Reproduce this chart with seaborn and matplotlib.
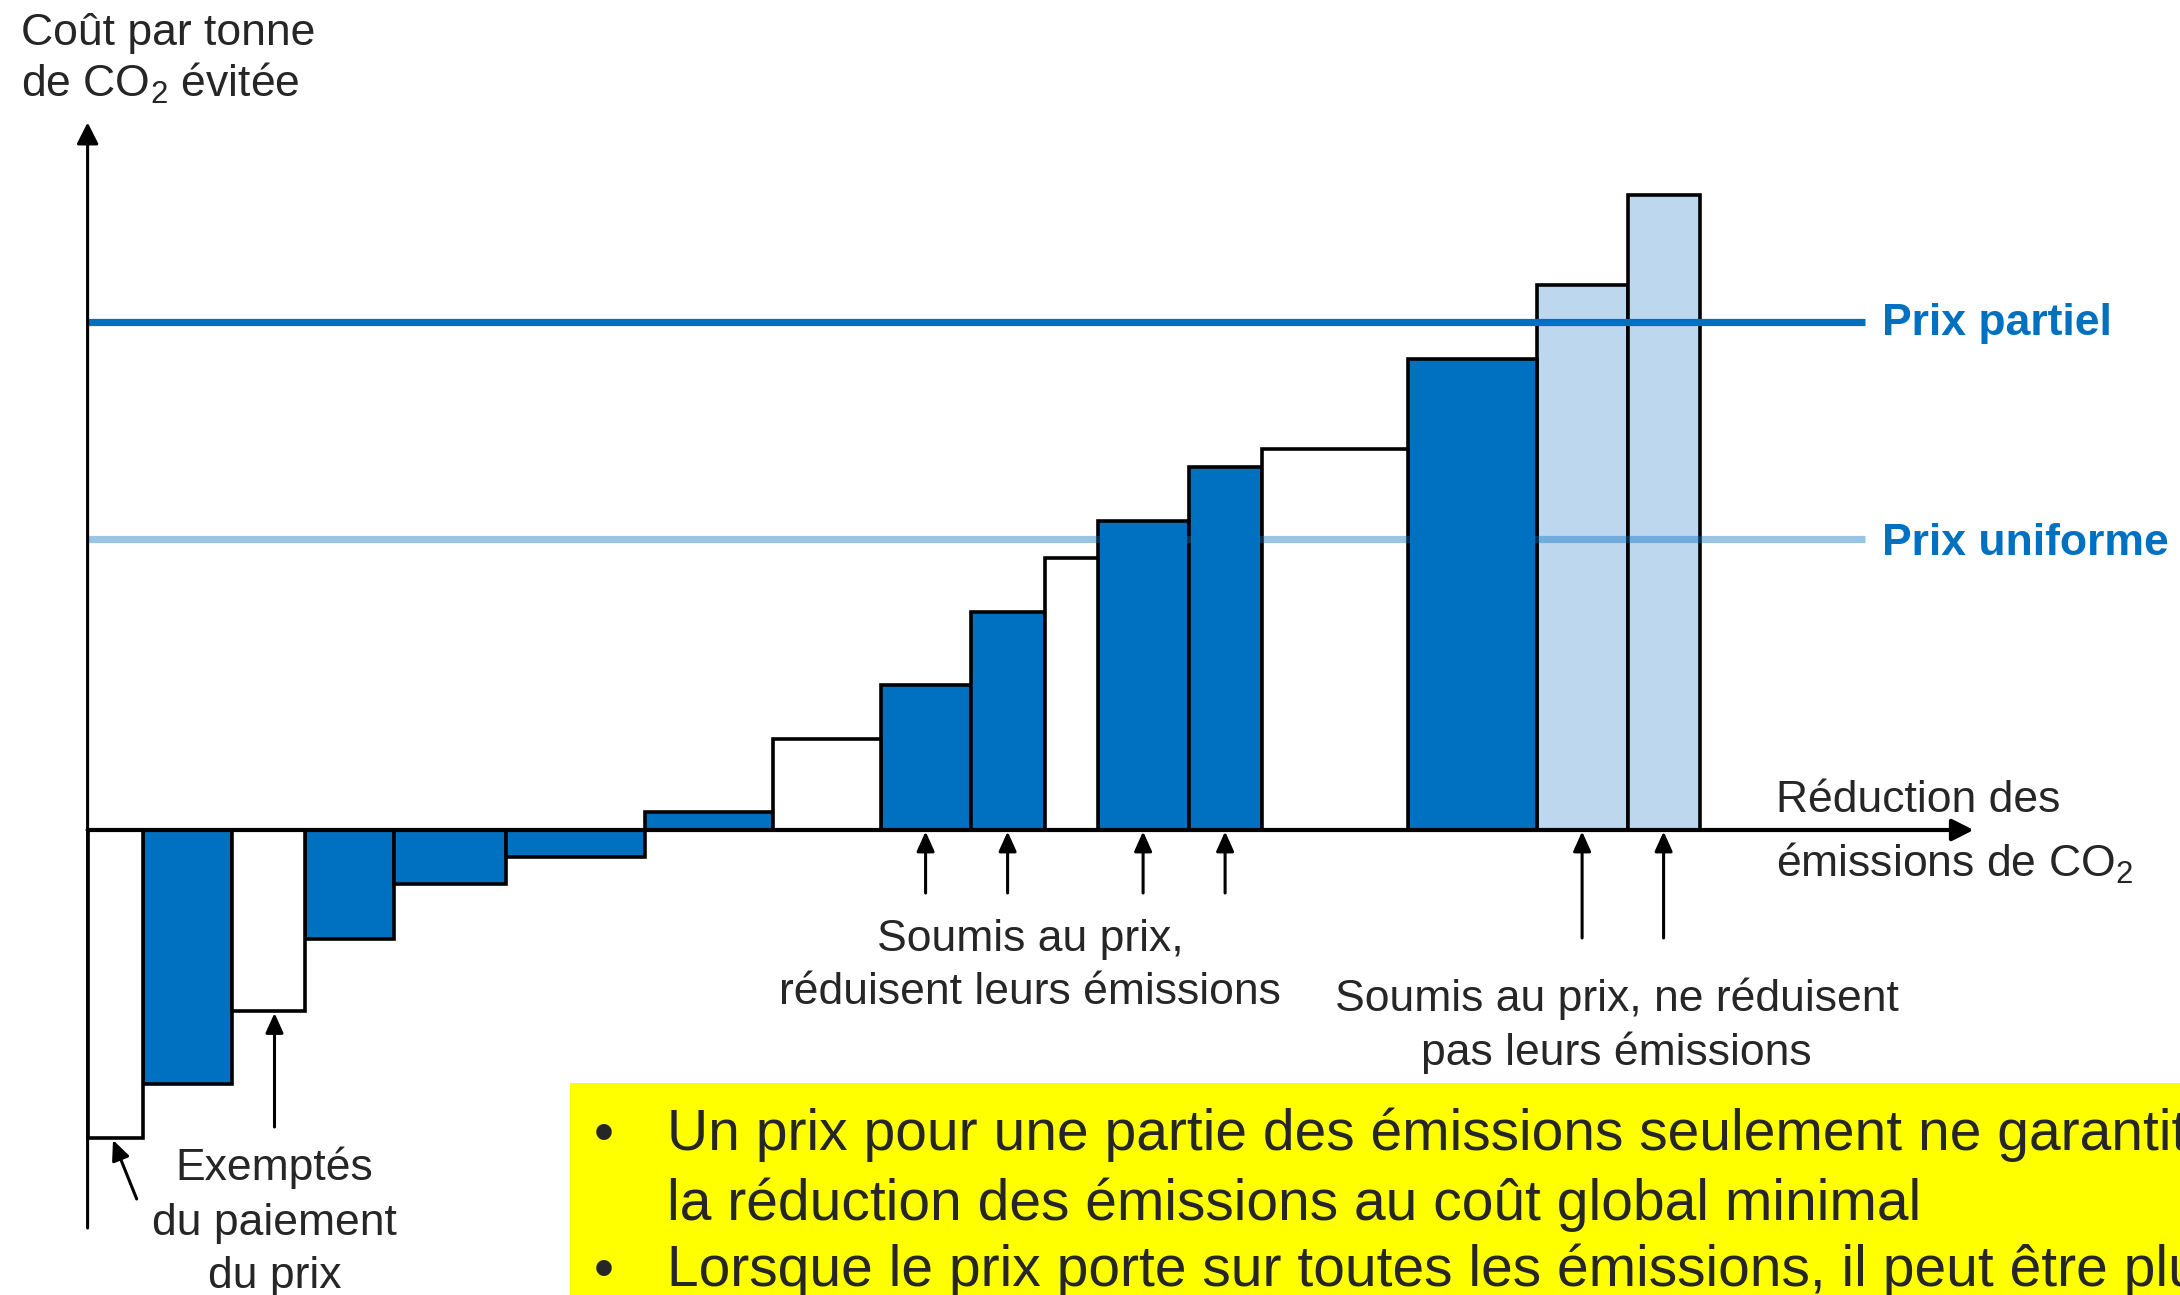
import numpy as np
import pandas as pd
import matplotlib
matplotlib.use("Agg")
import matplotlib.pyplot as plt
from matplotlib.patches import Rectangle
import seaborn as sns

# ---------------- data ----------------
# width of each abatement option (tonnes of CO2 reduced, arbitrary units)
largeurs = [5.5, 8.9, 7.3, 8.9, 11.2, 13.9, 12.8, 10.8, 9.0, 7.4, 5.3, 9.1, 7.3, 14.6, 12.9, 9.1, 7.2]
# cost per tonne avoided (arbitrary units)
couts = [-61.5, -50.7, -36.1, -21.7, -10.8, -5.3, 3.7, 18.3, 29.1, 43.7, 54.5, 61.9, 72.7, 76.2, 94.3, 109.0, 127.1]
groupes = ["exempte", "reduit", "exempte", "reduit", "reduit", "reduit", "reduit", "exempte",
           "reduit", "reduit", "exempte", "reduit", "reduit", "exempte", "reduit",
           "ne_reduit_pas", "ne_reduit_pas"]
ordre_groupes = ["exempte", "reduit", "ne_reduit_pas"]
prix_partiel = 101.7
prix_uniforme = 58.3

titre_y = ["Coût par tonne", "de CO$_2$ évitée"]
titre_x = ["Réduction des", "émissions de CO$_2$"]
label_partiel = "Prix partiel"
label_uniforme = "Prix uniforme"
note_exemptes = ["Exemptés", "du paiement", "du prix"]
note_reduisent = ["Soumis au prix,", "réduisent leurs émissions"]
note_ne_reduisent = ["Soumis au prix, ne réduisent", "pas leurs émissions"]
puces = ["Un prix pour une partie des émissions seulement ne garantit pas",
         "la réduction des émissions au coût global minimal",
         "Lorsque le prix porte sur toutes les émissions, il peut être plus bas"]
# bars pointed at by the arrows (indices)
fleches_reduisent = [8, 9, 11, 12]
fleches_ne_reduisent = [15, 16]

# ---------------- styling ----------------
BLEU = "#0070C0"
BLEU_CLAIR = "#BDD7EE"
palette = {"exempte": "white", "reduit": BLEU, "ne_reduit_pas": BLEU_CLAIR}

sns.set_theme(style="white")
plt.rcParams["font.family"] = ["Liberation Sans", "DejaVu Sans"]
plt.rcParams["mathtext.fontset"] = "custom"
plt.rcParams["mathtext.rm"] = "Liberation Sans"
plt.rcParams["mathtext.it"] = "Liberation Sans:italic"
plt.rcParams["mathtext.bf"] = "Liberation Sans:bold"

fig = plt.figure(figsize=(21.8, 12.95), dpi=100)
ax = fig.add_axes([0, 0, 1, 1])

bords = np.concatenate([[0.0], np.cumsum(largeurs)])
centres = (bords[:-1] + bords[1:]) / 2
df = pd.DataFrame({"centre": centres, "cout": couts, "groupe": groupes})

sns.histplot(data=df, x="centre", weights="cout", bins=[float(b) for b in bords], hue="groupe",
             hue_order=ordre_groupes, palette=palette, multiple="layer",
             alpha=1, edgecolor="black", linewidth=2.6, legend=False, ax=ax, zorder=2)
for p in list(ax.patches):
    if p.get_height() == 0:
        p.remove()

ax.set_xlim(-8.76, 209.24)
ax.set_ylim(-93.0, 166.0)
ax.set_axis_off()

# price lines
x_fin_lignes = 177.7
ax.plot([0, x_fin_lignes], [prix_partiel, prix_partiel], color=BLEU, lw=5.2,
        solid_capstyle="butt", zorder=3)
ax.plot([0, x_fin_lignes], [prix_uniforme, prix_uniforme], color=BLEU, lw=5.2,
        alpha=0.4, solid_capstyle="butt", zorder=3)
ax.text(179.4, prix_partiel - 2.7, label_partiel, color=BLEU, fontsize=32,
        fontweight="bold", ha="left", va="baseline")
ax.text(179.4, prix_uniforme - 3.3, label_uniforme, color=BLEU, fontsize=32,
        fontweight="bold", ha="left", va="baseline")

# axes arrows
ax.annotate("", xy=(0, 141.5), xytext=(0, -79.6),
            arrowprops=dict(arrowstyle="-|>,head_length=0.65,head_width=0.33",
                            mutation_scale=20, lw=2.2, color="black",
                            shrinkA=0, shrinkB=0), zorder=5)
ax.annotate("", xy=(188.6, 0), xytext=(0, 0),
            arrowprops=dict(arrowstyle="-|>,head_length=0.65,head_width=0.33",
                            mutation_scale=20, lw=3.0, color="black",
                            shrinkA=0, shrinkB=0), zorder=5)

# axis titles
ax.text(-6.66, 157.0, titre_y[0], fontsize=32, ha="left", va="baseline")
ax.text(-6.66, 146.6, titre_y[1], fontsize=32, ha="left", va="baseline")
ax.text(168.8, 3.66, titre_x[0], fontsize=32, ha="left", va="baseline")
ax.text(168.8, -9.34, titre_x[1], fontsize=32, ha="left", va="baseline")

fleche = dict(arrowstyle="-|>,head_length=0.6,head_width=0.27", mutation_scale=20,
              lw=2.2, color="black", shrinkA=0, shrinkB=0)

# arrows to bars subject to the price
for i in fleches_reduisent:
    ax.annotate("", xy=(centres[i], -0.3), xytext=(centres[i], -12.6),
                arrowprops=fleche, zorder=5)
for i in fleches_ne_reduisent:
    ax.annotate("", xy=(centres[i], -0.3), xytext=(centres[i], -21.6),
                arrowprops=fleche, zorder=5)

# arrows to exempted bars
ax.annotate("", xy=(2.54, couts[0] - 0.5), xytext=(4.91, -73.8), arrowprops=fleche, zorder=5)
ax.annotate("", xy=(18.69, couts[2] - 0.5), xytext=(18.69, -59.4), arrowprops=fleche, zorder=5)

# notes
for txt, yb in zip(note_exemptes, [-70.0, -81.0, -91.6]):
    ax.text(18.69, yb, txt, fontsize=32, ha="center", va="baseline")
for txt, yb in zip(note_reduisent, [-24.3, -34.7]):
    ax.text(94.24, yb, txt, fontsize=32, ha="center", va="baseline")
for txt, yb in zip(note_ne_reduisent, [-36.3, -47.0]):
    ax.text(152.9, yb, txt, fontsize=32, ha="center", va="baseline")

# yellow box with bullets (the text runs past the right edge, as in the reference)
ax.add_patch(Rectangle((48.24, -100.0), 200.0, 100.0 - 50.54, facecolor="#FFFF00",
                       edgecolor="none", zorder=1))
for txt, yb, puce in zip(puces, [-64.1, -78.1, -91.3], [True, False, True]):
    if puce:
        ax.text(50.6, yb, "•", fontsize=41, ha="left", va="baseline", zorder=6)
    ax.text(57.9, yb, txt, fontsize=41, ha="left", va="baseline", zorder=6)

fig.savefig("out.png", dpi=100)
